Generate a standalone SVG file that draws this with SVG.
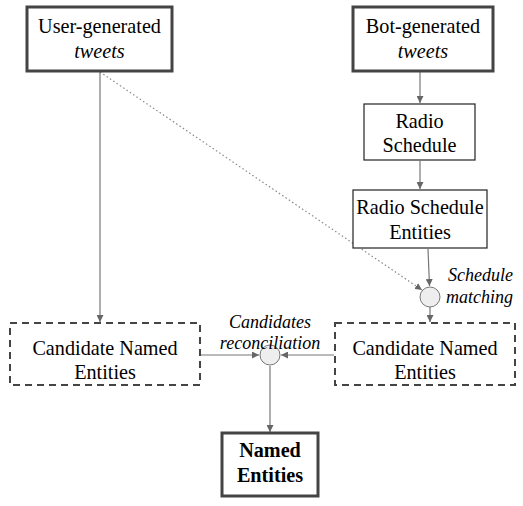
<svg xmlns="http://www.w3.org/2000/svg" width="523" height="506" viewBox="0 0 523 506">
<defs>
<style>
.t{font-family:"Liberation Serif","Times New Roman",serif;font-size:20.2px;fill:#000;text-anchor:middle}
.i{font-style:italic}
.b{font-weight:bold}
.lbl{font-family:"Liberation Serif","Times New Roman",serif;font-size:18px;font-style:italic;fill:#000}
.thick{fill:#fff;stroke:#444;stroke-width:3}
.thin{fill:#fff;stroke:#222;stroke-width:1.2}
.dash{fill:#fff;stroke:#444;stroke-width:2;stroke-dasharray:7,5}
.circ{fill:#eee;stroke:#777;stroke-width:1}
.c{fill:none;stroke:#777;stroke-width:1.2}
.dot{fill:none;stroke:#888;stroke-width:1.2;stroke-dasharray:1.5,2.5}
</style>
<marker id="ah" viewBox="0 0 10 10" refX="10" refY="5" markerWidth="7" markerHeight="7" orient="auto" markerUnits="userSpaceOnUse">
<path d="M0,0 L10,5 L0,10 z" fill="#666"/>
</marker>
</defs>
<g id="connectors">
<line class="c" x1="100" y1="72" x2="100" y2="322" marker-end="url(#ah)"/>
<line class="dot" x1="100" y1="72" x2="422" y2="290" marker-end="url(#ah)"/>
<line class="c" x1="420" y1="72" x2="420" y2="103" marker-end="url(#ah)"/>
<line class="c" x1="420" y1="161" x2="420" y2="189" marker-end="url(#ah)"/>
<line class="c" x1="428" y1="249" x2="429.5" y2="286" marker-end="url(#ah)"/>
<line class="c" x1="430" y1="307" x2="430" y2="322" marker-end="url(#ah)"/>
<line class="c" x1="201" y1="355" x2="259" y2="355" marker-end="url(#ah)"/>
<line class="c" x1="334" y1="355" x2="281" y2="355" marker-end="url(#ah)"/>
<line class="c" x1="270" y1="366" x2="270" y2="432" marker-end="url(#ah)"/>
</g>
<g id="user-tweets">
<rect class="thick" x="27" y="7" width="145" height="64"/>
<text class="t" x="99.5" y="33">User-generated</text>
<text class="t i" x="99.5" y="58">tweets</text>
</g>
<g id="bot-tweets">
<rect class="thick" x="353" y="7" width="140" height="64"/>
<text class="t" x="423" y="33">Bot-generated</text>
<text class="t i" x="423" y="58">tweets</text>
</g>
<g id="radio-schedule">
<rect class="thin" x="364" y="104" width="111" height="56"/>
<text class="t" x="419.5" y="128">Radio</text>
<text class="t" x="419.5" y="152">Schedule</text>
</g>
<g id="radio-schedule-entities">
<rect class="thin" x="353" y="190" width="134" height="58"/>
<text class="t" x="420" y="214">Radio Schedule</text>
<text class="t" x="420" y="239">Entities</text>
</g>
<g id="schedule-matching">
<circle class="circ" cx="430" cy="297" r="10"/>
<text class="lbl" x="448" y="281">Schedule</text>
<text class="lbl" x="446" y="303">matching</text>
</g>
<g id="candidates-left">
<rect class="dash" x="10" y="323" width="190" height="62"/>
<text class="t" x="105" y="355">Candidate Named</text>
<text class="t" x="105" y="379">Entities</text>
</g>
<g id="candidates-right">
<rect class="dash" x="335" y="323" width="180" height="62"/>
<text class="t" x="425" y="355">Candidate Named</text>
<text class="t" x="425" y="379">Entities</text>
</g>
<g id="reconciliation">
<circle class="circ" cx="270" cy="355" r="10"/>
<text class="lbl" x="270" y="328" text-anchor="middle">Candidates</text>
<text class="lbl" x="270" y="349" text-anchor="middle">reconciliation</text>
</g>
<g id="named-entities">
<rect class="thick" x="222" y="433" width="96" height="63"/>
<text class="t b" x="270" y="457">Named</text>
<text class="t b" x="270" y="482">Entities</text>
</g>
</svg>
